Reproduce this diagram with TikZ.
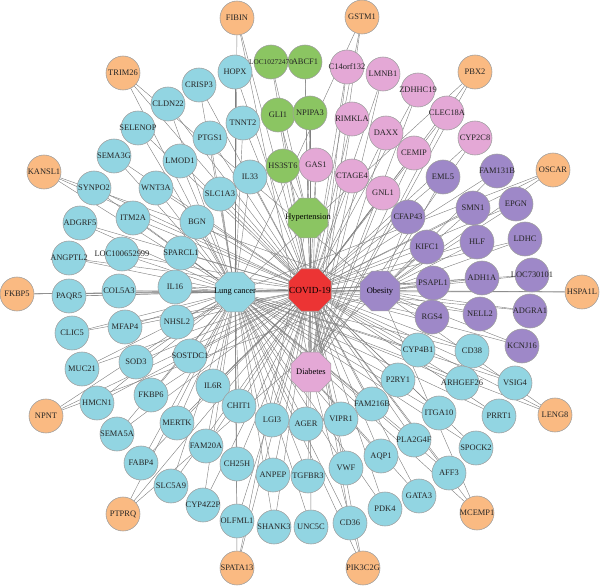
\documentclass[tikz,border=0pt]{standalone}
\usepackage{fontspec}
\setmainfont{Liberation Serif}
\usepackage{tikz}
\usetikzlibrary{shapes.geometric, backgrounds}
\usepackage{xcolor}

\definecolor{lungcol}{RGB}{146,213,226}
\definecolor{sharecol}{RGB}{250,186,130}
\definecolor{hypercol}{RGB}{139,197,98}
\definecolor{diabcol}{RGB}{228,168,214}
\definecolor{obescol}{RGB}{158,136,200}
\definecolor{covidcol}{RGB}{236,52,52}

\begin{document}
\begin{tikzpicture}[
    x=0.025cm, y=-0.025cm,
    font=\fontsize{6}{7}\selectfont,
    fixedtext/.style={execute at begin node={\hbox to 0pt\bgroup\hss}, execute at end node={\hss\egroup}},
    gene/.style={circle, draw=gray!75, line width=0.4pt, minimum size=0.85cm, inner sep=0pt, text=black!85, fixedtext},
    lunggene/.style={gene, fill=lungcol},
    sharegene/.style={gene, fill=sharecol},
    hypergene/.style={gene, fill=hypercol},
    diabgene/.style={gene, fill=diabcol},
    obesgene/.style={gene, fill=obescol},
    hub/.style={regular polygon, regular polygon sides=8, draw=gray!75, line width=0.4pt, minimum size=1.08cm, inner sep=0pt, fixedtext},
    edge/.style={draw=black!50, line width=0.3pt}
]
\useasboundingbox (0,0) rectangle (600,586);

% Disease hubs
\node[hub, fill=covidcol, minimum size=1.15cm, font=\fontsize{6.6}{7}\selectfont] (covid) at (310,290) {COVID-19};
\node[hub, fill=lungcol] (lung) at (235,292) {Lung cancer};
\node[hub, fill=hypercol] (hyper) at (308,218) {Hypertension};
\node[hub, fill=obescol] (obes) at (380,291) {Obesity};
\node[hub, fill=diabcol] (diab) at (311,372) {Diabetes};

% Shared genes
\node[sharegene] (FIBIN) at (237,18) {FIBIN};
\node[sharegene] (GSTM1) at (362,17) {GSTM1};
\node[sharegene] (TRIM26) at (123,73) {TRIM26};
\node[sharegene] (PBX2) at (475,72) {PBX2};
\node[sharegene] (KANSL1) at (44,172) {KANSL1};
\node[sharegene] (OSCAR) at (553,170) {OSCAR};
\node[sharegene] (FKBP5) at (17,294) {FKBP5};
\node[sharegene] (HSPA1L) at (582,292) {HSPA1L};
\node[sharegene] (NPNT) at (46,416) {NPNT};
\node[sharegene] (LENG8) at (555,415) {LENG8};
\node[sharegene] (PTPRQ) at (123,514) {PTPRQ};
\node[sharegene] (MCEMP1) at (477,513) {MCEMP1};
\node[sharegene] (SPATA13) at (237,568) {SPATA13};
\node[sharegene] (PIK3C2G) at (363,568) {PIK3C2G};

% Hypertension genes
\node[hypergene] (ABCF1) at (305,62) {ABCF1};
\node[hypergene] (GLI1) at (278,115) {GLI1};
\node[hypergene] (NPIPA3) at (310,113) {NPIPA3};
\node[hypergene] (HS3ST6) at (283,166) {HS3ST6};

% Diabetes genes
\node[diabgene] (C14orf132) at (347,67) {C14orf132};
\node[diabgene] (LMNB1) at (383,74) {LMNB1};
\node[diabgene] (ZDHHC19) at (418,90) {ZDHHC19};
\node[diabgene] (RIMKLA) at (352,119) {RIMKLA};
\node[diabgene] (CLEC18A) at (447,113) {CLEC18A};
\node[diabgene] (DAXX) at (386,133) {DAXX};
\node[diabgene] (CYP2C8) at (475,138) {CYP2C8};
\node[diabgene] (CEMIP) at (414,153) {CEMIP};
\node[diabgene] (GAS1) at (316,165) {GAS1};
\node[diabgene] (CTAGE4) at (352,176) {CTAGE4};
\node[diabgene] (GNL1) at (383,193) {GNL1};

% Obesity genes
\node[obesgene] (EML5) at (443,177) {EML5};
\node[obesgene] (FAM131B) at (497,171) {FAM131B};
\node[obesgene] (CFAP43) at (408,217) {CFAP43};
\node[obesgene] (SMN1) at (473,208) {SMN1};
\node[obesgene] (EPGN) at (516,204) {EPGN};
\node[obesgene] (KIFC1) at (427,247) {KIFC1};
\node[obesgene] (HLF) at (477,242) {HLF};
\node[obesgene] (LDHC) at (525,239) {LDHC};
\node[obesgene] (PSAPL1) at (433,283) {PSAPL1};
\node[obesgene] (ADH1A) at (482,278) {ADH1A};
\node[obesgene] (LOC730101) at (532,275) {LOC730101};
\node[obesgene] (RGS4) at (432,317) {RGS4};
\node[obesgene] (NELL2) at (480,314) {NELL2};
\node[obesgene] (ADGRA1) at (530,311) {ADGRA1};
\node[obesgene] (KCNJ16) at (522,346) {KCNJ16};

% Lung cancer genes
\node[lunggene] (HOPX) at (235,72) {HOPX};
\node[lunggene] (CRISP3) at (199,85) {CRISP3};
\node[lunggene] (CLDN22) at (168,104) {CLDN22};
\node[lunggene] (TNNT2) at (243,123) {TNNT2};
\node[lunggene] (SELENOP) at (138,128) {SELENOP};
\node[lunggene] (PTGS1) at (210,138) {PTGS1};
\node[lunggene] (SEMA3G) at (114,156) {SEMA3G};
\node[lunggene] (LMOD1) at (180,161) {LMOD1};
\node[lunggene] (IL33) at (250,177) {IL33};
\node[lunggene] (SYNPO2) at (94,188) {SYNPO2};
\node[lunggene] (WNT3A) at (156,188) {WNT3A};
\node[lunggene] (SLC1A3) at (220,194) {SLC1A3};
\node[lunggene] (ITM2A) at (133,218) {ITM2A};
\node[lunggene] (ADGRF5) at (80,223) {ADGRF5};
\node[lunggene] (BGN) at (197,222) {BGN};
\node[lunggene] (SPARCL1) at (181,253) {SPARCL1};
\node[lunggene] (LOC100652999) at (122,254) {LOC100652999};
\node[lunggene] (ANGPTL2) at (69,258) {ANGPTL2};
\node[lunggene] (IL16) at (175,287) {IL16};
\node[lunggene] (COL5A3) at (119,291) {COL5A3};
\node[lunggene] (PAQR5) at (69,296) {PAQR5};
\node[lunggene] (NHSL2) at (177,322) {NHSL2};
\node[lunggene] (MFAP4) at (125,327) {MFAP4};
\node[lunggene] (CLIC5) at (72,333) {CLIC5};
\node[lunggene] (SOSTDC1) at (190,356) {SOSTDC1};
\node[lunggene] (SOD3) at (136,362) {SOD3};
\node[lunggene] (MUC21) at (82,369) {MUC21};
\node[lunggene] (IL6R) at (213,386) {IL6R};
\node[lunggene] (FKBP6) at (151,395) {FKBP6};
\node[lunggene] (HMCN1) at (97,403) {HMCN1};
\node[lunggene] (CHIT1) at (239,406) {CHIT1};
\node[lunggene] (LGI3) at (272,420) {LGI3};
\node[lunggene] (AGER) at (306,424) {AGER};
\node[lunggene] (VIPR1) at (341,419) {VIPR1};
\node[lunggene] (FAM216B) at (372,404) {FAM216B};
\node[lunggene] (P2RY1) at (398,380) {P2RY1};
\node[lunggene] (CYP4B1) at (418,350) {CYP4B1};
\node[lunggene] (CD38) at (472,351) {CD38};
\node[lunggene] (ARHGEF26) at (462,383) {ARHGEF26};
\node[lunggene] (VSIG4) at (515,383) {VSIG4};
\node[lunggene] (MERTK) at (177,423) {MERTK};
\node[lunggene] (SEMA5A) at (117,434) {SEMA5A};
\node[lunggene] (FAM20A) at (206,446) {FAM20A};
\node[lunggene] (CH25H) at (237,464) {CH25H};
\node[lunggene] (FABP4) at (141,463) {FABP4};
\node[lunggene] (ANPEP) at (273,475) {ANPEP};
\node[lunggene] (SLC5A9) at (171,486) {SLC5A9};
\node[lunggene] (CYP4Z2P) at (203,505) {CYP4Z2P};
\node[lunggene] (OLFML1) at (237,521) {OLFML1};
\node[lunggene] (SHANK3) at (274,527) {SHANK3};
\node[lunggene] (TGFBR3) at (308,476) {TGFBR3};
\node[lunggene] (UNC5C) at (311,527) {UNC5C};
\node[lunggene] (VWF) at (346,468) {VWF};
\node[lunggene] (CD36) at (350,523) {CD36};
\node[lunggene] (AQP1) at (381,456) {AQP1};
\node[lunggene] (PDK4) at (385,509) {PDK4};
\node[lunggene] (GATA3) at (419,496) {GATA3};
\node[lunggene] (PLA2G4F) at (414,440) {PLA2G4F};
\node[lunggene] (AFF3) at (449,473) {AFF3};
\node[lunggene] (ITGA10) at (439,413) {ITGA10};
\node[lunggene] (SPOCK2) at (476,448) {SPOCK2};
\node[lunggene] (PRRT1) at (499,416) {PRRT1};

% long label, set last so it stays readable
\node[hypergene, font=\fontsize{5.2}{6}\selectfont] (LOC10272470) at (271,62) {LOC10272470};

% Edges (behind the nodes)
\begin{pgfonlayer}{background}
\foreach \h in {lung, hyper, obes, diab}
    \draw[edge] (covid) -- (\h);
\foreach \g in {HOPX, CRISP3, CLDN22, TNNT2, SELENOP, PTGS1, SEMA3G, LMOD1, IL33, SYNPO2, WNT3A, SLC1A3, ITM2A, ADGRF5, BGN, SPARCL1, LOC100652999, ANGPTL2, IL16, COL5A3, PAQR5, NHSL2, MFAP4, CLIC5, SOSTDC1, SOD3, MUC21, IL6R, FKBP6, HMCN1, CHIT1, LGI3, AGER, VIPR1, FAM216B, P2RY1, CYP4B1, CD38, ARHGEF26, VSIG4, MERTK, SEMA5A, FAM20A, CH25H, FABP4, ANPEP, SLC5A9, CYP4Z2P, OLFML1, SHANK3, TGFBR3, UNC5C, VWF, CD36, AQP1, PDK4, GATA3, PLA2G4F, AFF3, ITGA10, SPOCK2, PRRT1}
    {\draw[edge] (\g) -- (lung); \draw[edge] (\g) -- (covid);}
\foreach \g in {LOC10272470, ABCF1, GLI1, NPIPA3, HS3ST6}
    {\draw[edge] (\g) -- (hyper); \draw[edge] (\g) -- (covid);}
\foreach \g in {C14orf132, LMNB1, ZDHHC19, RIMKLA, CLEC18A, DAXX, CYP2C8, CEMIP, GAS1, CTAGE4, GNL1}
    {\draw[edge] (\g) -- (diab); \draw[edge] (\g) -- (covid);}
\foreach \g in {EML5, FAM131B, CFAP43, SMN1, EPGN, KIFC1, HLF, LDHC, PSAPL1, ADH1A, LOC730101, RGS4, NELL2, ADGRA1, KCNJ16}
    {\draw[edge] (\g) -- (obes); \draw[edge] (\g) -- (covid);}
\foreach \g/\a/\b in {FIBIN/lung/diab, GSTM1/lung/diab, TRIM26/lung/obes, PBX2/lung/diab, KANSL1/lung/obes, OSCAR/lung/obes, FKBP5/lung/obes, HSPA1L/lung/obes, NPNT/lung/obes, LENG8/lung/obes, PTPRQ/lung/obes, MCEMP1/lung/obes, SPATA13/lung/hyper, PIK3C2G/lung/diab}
    {\draw[edge] (\g) -- (\a); \draw[edge] (\g) -- (\b); \draw[edge] (\g) -- (covid);}
\end{pgfonlayer}

\end{tikzpicture}
\end{document}
